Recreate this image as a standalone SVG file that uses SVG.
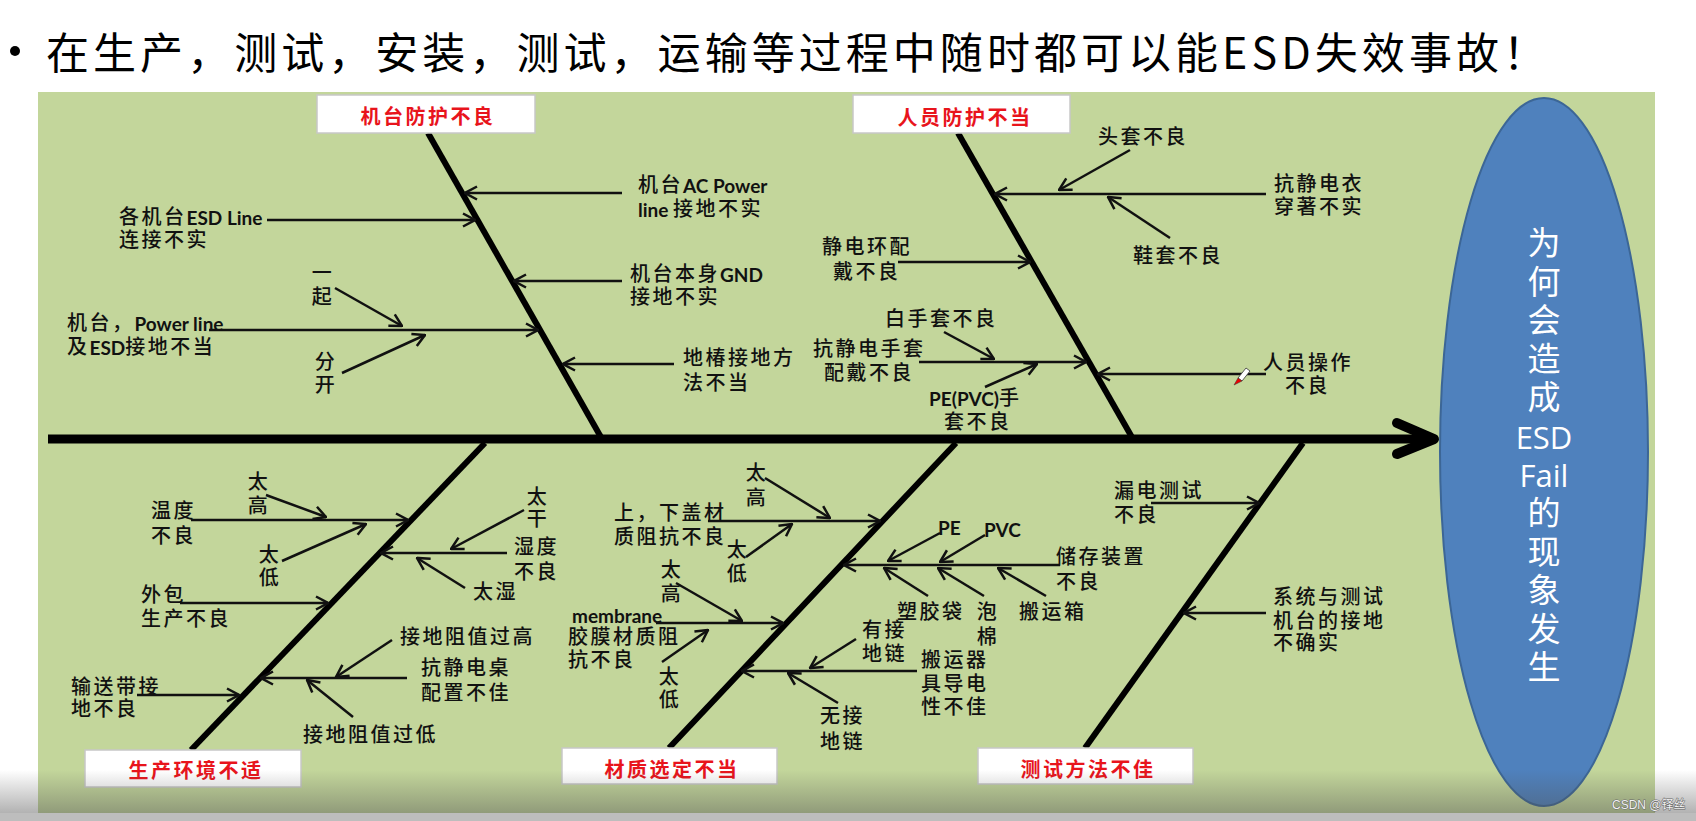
<svg xmlns="http://www.w3.org/2000/svg" width="1696" height="821" viewBox="0 0 1696 821">
<defs>
<style>
.t{font-family:"Liberation Sans","Noto Sans CJK SC",sans-serif;font-size:20px;letter-spacing:2.5px;font-weight:500;fill:#111;dominant-baseline:central}
.tm{text-anchor:middle}
.b{font-family:Lato,"Open Sans",sans-serif;font-weight:bold;letter-spacing:0;font-size:19px}
.cat{font-family:"Liberation Sans","Noto Sans CJK SC",sans-serif;font-size:20px;letter-spacing:2.5px;font-weight:700;fill:#e8141c;dominant-baseline:central;text-anchor:middle}
.box{fill:#fff;stroke:#c8c8c8;stroke-width:1.5}
.bone{stroke:#000;stroke-width:6;fill:none}
.ar{stroke:#111;stroke-width:2.5;fill:none;marker-end:url(#ah)}
.head{font-family:"Liberation Sans","Noto Sans CJK SC",sans-serif;font-size:33px;fill:#fff;text-anchor:middle;dominant-baseline:central}
.headl{font-family:"Open Sans","Noto Sans",sans-serif;font-size:31px}
</style>
<marker id="ah" viewBox="0 0 14 16" markerWidth="14" markerHeight="16" refX="13" refY="8" orient="auto" markerUnits="userSpaceOnUse">
<path d="M1,1.5 L13,8 L1,14.5" fill="none" stroke="#111" stroke-width="2.5"/>
</marker>
<linearGradient id="fade" x1="0" y1="0" x2="0" y2="1">
<stop offset="0" stop-color="#505050" stop-opacity="0"/>
<stop offset="1" stop-color="#505050" stop-opacity="0.45"/>
</linearGradient>
</defs>
<rect x="0" y="0" width="1696" height="821" fill="#fff"/>
<g id="title">
<circle cx="15" cy="51" r="5" fill="#000"/>
<text x="46" y="69" font-family="Noto Sans CJK SC, sans-serif" font-size="43" fill="#000" textLength="1500" lengthAdjust="spacing">在生产，测试，安装，测试，运输等过程中随时都可以能ESD失效事故！</text>
</g>
<rect id="panel" x="38" y="92" width="1617" height="729" fill="#c3d69b"/>

<g id="connectors">
<line x1="48" y1="439" x2="1428" y2="439" stroke="#000" stroke-width="9"/>
<path d="M1397,423 L1434,439 L1397,454" fill="none" stroke="#000" stroke-width="10" stroke-linecap="round" stroke-linejoin="round"/>
<line class="bone" x1="428" y1="133" x2="602" y2="439"/>
<line class="bone" x1="958" y1="133" x2="1133" y2="439"/>
<line class="bone" x1="485" y1="443" x2="191" y2="750"/>
<line class="bone" x1="956" y1="443" x2="669" y2="748"/>
<line class="bone" x1="1303" y1="443" x2="1085" y2="748" stroke-width="5"/>
<line class="ar" x1="622" y1="193" x2="465" y2="193"/>
<line class="ar" x1="267" y1="220" x2="475" y2="220" stroke-width="4"/>
<line class="ar" x1="622" y1="281" x2="514" y2="281"/>
<line class="ar" x1="209" y1="330" x2="538" y2="330"/>
<line class="ar" x1="335" y1="288" x2="402" y2="326"/>
<line class="ar" x1="342" y1="373" x2="425" y2="335"/>
<line class="ar" x1="674" y1="364" x2="563" y2="364"/>
<line class="ar" x1="1266" y1="194" x2="995" y2="194"/>
<line class="ar" x1="1130" y1="150" x2="1059" y2="190"/>
<line class="ar" x1="1170" y1="238" x2="1108" y2="197"/>
<line class="ar" x1="898" y1="262" x2="1030" y2="262"/>
<line class="ar" x1="919" y1="362" x2="1086" y2="362"/>
<line class="ar" x1="944" y1="332" x2="994" y2="359"/>
<line class="ar" x1="985" y1="387" x2="1037" y2="364"/>
<line class="ar" x1="1266" y1="374" x2="1098" y2="374"/>
<line class="ar" x1="191" y1="520" x2="408" y2="520"/>
<line class="ar" x1="266" y1="495" x2="326" y2="517"/>
<line class="ar" x1="282" y1="561" x2="366" y2="524"/>
<line class="ar" x1="507" y1="553" x2="381" y2="553"/>
<line class="ar" x1="524" y1="510" x2="451" y2="549"/>
<line class="ar" x1="465" y1="588" x2="417" y2="558"/>
<line class="ar" x1="180" y1="603" x2="328" y2="603"/>
<line class="ar" x1="407" y1="678" x2="261" y2="678"/>
<line class="ar" x1="392" y1="640" x2="336" y2="677"/>
<line class="ar" x1="353" y1="717" x2="307" y2="680"/>
<line class="ar" x1="137" y1="695" x2="239" y2="695"/>
<line class="ar" x1="708" y1="521" x2="880" y2="521"/>
<line class="ar" x1="765" y1="478" x2="830" y2="518"/>
<line class="ar" x1="746" y1="557" x2="792" y2="524"/>
<line class="ar" x1="1060" y1="565" x2="844" y2="565"/>
<line class="ar" x1="940" y1="533" x2="888" y2="561"/>
<line class="ar" x1="985" y1="535" x2="940" y2="562"/>
<line class="ar" x1="928" y1="596" x2="884" y2="568"/>
<line class="ar" x1="984" y1="596" x2="938" y2="568"/>
<line class="ar" x1="1046" y1="596" x2="998" y2="568"/>
<line class="ar" x1="656" y1="623" x2="783" y2="623"/>
<line class="ar" x1="676" y1="583" x2="742" y2="621"/>
<line class="ar" x1="662" y1="662" x2="708" y2="630"/>
<line class="ar" x1="917" y1="671" x2="742" y2="671"/>
<line class="ar" x1="856" y1="639" x2="810" y2="668"/>
<line class="ar" x1="838" y1="703" x2="788" y2="673"/>
<line class="ar" x1="1151" y1="503" x2="1259" y2="503"/>
<line class="ar" x1="1266" y1="613" x2="1184" y2="613"/>
</g>

<g id="head">
<ellipse cx="1544" cy="452" rx="104" ry="354" fill="#4f81bd" stroke="#3c6696" stroke-width="2"/>
<text class="head" x="1544" y="243"><tspan x="1544" y="243">为</tspan><tspan x="1544" y="282">何</tspan><tspan x="1544" y="320">会</tspan><tspan x="1544" y="359">造</tspan><tspan x="1544" y="397">成</tspan><tspan class="headl" x="1544" y="437">ESD</tspan><tspan class="headl" x="1544" y="475">Fail</tspan><tspan x="1544" y="513">的</tspan><tspan x="1544" y="552">现</tspan><tspan x="1544" y="590">象</tspan><tspan x="1544" y="629">发</tspan><tspan x="1544" y="667">生</tspan></text>
</g>

<g id="cat-machine"><rect class="box" x="317" y="95" width="218" height="38"/><text class="cat" x="428" y="117">机台防护不良</text></g>
<g id="cat-people"><rect class="box" x="853" y="95" width="217" height="38"/><text class="cat" x="965" y="118">人员防护不当</text></g>
<g id="cat-env"><rect class="box" x="85" y="750" width="216" height="37"/><text class="cat" x="196" y="771">生产环境不适</text></g>
<g id="cat-material"><rect class="box" x="562" y="748" width="215" height="36"/><text class="cat" x="672" y="770">材质选定不当</text></g>
<g id="cat-test"><rect class="box" x="978" y="748" width="215" height="36"/><text class="cat" x="1088" y="770">测试方法不佳</text></g>

<g id="n-esdline"><text class="t"><tspan x="119" y="217">各机台<tspan class="b">ESD Line</tspan></tspan><tspan x="119" y="240">连接不实</tspan></text></g>
<g id="n-acpower"><text class="t"><tspan x="638" y="185">机台<tspan class="b">AC Power</tspan></tspan><tspan x="638" y="209"><tspan class="b">line </tspan>接地不实</tspan></text></g>
<g id="n-gnd"><text class="t"><tspan x="630" y="274">机台本身<tspan class="b">GND</tspan></tspan><tspan x="630" y="297">接地不实</tspan></text></g>
<g id="n-pile"><text class="t"><tspan x="683" y="358">地椿接地方</tspan><tspan x="683" y="383">法不当</tspan></text></g>
<g id="n-powerline"><text class="t"><tspan x="67" y="323">机台，<tspan class="b">Power line</tspan></tspan><tspan x="67" y="347">及<tspan class="b">ESD</tspan>接地不当</tspan></text></g>
<g id="n-together"><text class="t tm"><tspan x="323" y="273">一</tspan><tspan x="323" y="297">起</tspan></text></g>
<g id="n-apart"><text class="t tm"><tspan x="326" y="362">分</tspan><tspan x="326" y="385">开</tspan></text></g>

<g id="n-hood"><text class="t" x="1098" y="137">头套不良</text></g>
<g id="n-smock"><text class="t"><tspan x="1274" y="184">抗静电衣</tspan><tspan x="1274" y="207">穿著不实</tspan></text></g>
<g id="n-shoe"><text class="t" x="1133" y="256">鞋套不良</text></g>
<g id="n-wrist"><text class="t"><tspan x="822" y="247">静电环配</tspan><tspan x="833" y="272">戴不良</tspan></text></g>
<g id="n-whiteglove"><text class="t" x="885" y="319">白手套不良</text></g>
<g id="n-glove"><text class="t"><tspan x="813" y="349">抗静电手套</tspan><tspan x="824" y="373">配戴不良</tspan></text></g>
<g id="n-pvcglove"><text class="t"><tspan x="929" y="398"><tspan class="b">PE(PVC)</tspan>手</tspan><tspan x="944" y="422">套不良</tspan></text></g>
<g id="n-operate"><text class="t"><tspan x="1263" y="363">人员操作</tspan><tspan x="1285" y="386">不良</tspan></text></g>
<g id="pen">
<polygon points="1238,378 1246,368 1250,371 1242,381" fill="#fff" stroke="#333" stroke-width="0.8"/>
<polygon points="1238,378 1242,381 1234,385" fill="#e00" stroke="#333" stroke-width="0.5"/>
</g>

<g id="n-temp"><text class="t"><tspan x="151" y="511">温度</tspan><tspan x="151" y="536">不良</tspan></text></g>
<g id="n-temphigh"><text class="t tm"><tspan x="259" y="482">太</tspan><tspan x="259" y="506">高</tspan></text></g>
<g id="n-templow"><text class="t tm"><tspan x="270" y="555">太</tspan><tspan x="270" y="578">低</tspan></text></g>
<g id="n-humid"><text class="t"><tspan x="514" y="547">湿度</tspan><tspan x="514" y="572">不良</tspan></text></g>
<g id="n-dry"><text class="t tm"><tspan x="538" y="497">太</tspan><tspan x="538" y="519">干</tspan></text></g>
<g id="n-wet"><text class="t" x="473" y="592">太湿</text></g>
<g id="n-package"><text class="t"><tspan x="141" y="595">外包</tspan><tspan x="141" y="619">生产不良</tspan></text></g>
<g id="n-rhigh"><text class="t" x="400" y="637">接地阻值过高</text></g>
<g id="n-desk"><text class="t"><tspan x="421" y="668">抗静电桌</tspan><tspan x="421" y="693">配置不佳</tspan></text></g>
<g id="n-rlow"><text class="t" x="303" y="735">接地阻值过低</text></g>
<g id="n-belt"><text class="t"><tspan x="71" y="687">输送带接</tspan><tspan x="71" y="709">地不良</tspan></text></g>

<g id="n-cover"><text class="t"><tspan x="614" y="513">上，下盖材</tspan><tspan x="614" y="537">质阻抗不良</tspan></text></g>
<g id="n-coverhigh"><text class="t tm"><tspan x="757" y="473">太</tspan><tspan x="757" y="498">高</tspan></text></g>
<g id="n-coverlow"><text class="t tm"><tspan x="738" y="550">太</tspan><tspan x="738" y="574">低</tspan></text></g>
<g id="n-pe"><text class="t b" x="938" y="527">PE</text></g>
<g id="n-pvc"><text class="t b" x="984" y="529">PVC</text></g>
<g id="n-storage"><text class="t"><tspan x="1056" y="557">储存装置</tspan><tspan x="1056" y="582">不良</tspan></text></g>
<g id="n-bag"><text class="t" x="897" y="612">塑胶袋</text></g>
<g id="n-foam"><text class="t tm"><tspan x="988" y="612">泡</tspan><tspan x="988" y="637">棉</tspan></text></g>
<g id="n-box"><text class="t" x="1019" y="612">搬运箱</text></g>
<g id="n-membrane"><text class="t"><tspan class="b" x="572" y="615" font-size="20">membrane</tspan><tspan x="568" y="637">胶膜材质阻</tspan><tspan x="568" y="660">抗不良</tspan></text></g>
<g id="n-memhigh"><text class="t tm"><tspan x="672" y="570">太</tspan><tspan x="672" y="594">高</tspan></text></g>
<g id="n-memlow"><text class="t tm"><tspan x="670" y="677">太</tspan><tspan x="670" y="700">低</tspan></text></g>
<g id="n-chain"><text class="t"><tspan x="862" y="630">有接</tspan><tspan x="862" y="654">地链</tspan></text></g>
<g id="n-carrier"><text class="t"><tspan x="921" y="660">搬运器</tspan><tspan x="921" y="684">具导电</tspan><tspan x="921" y="707">性不佳</tspan></text></g>
<g id="n-nochain"><text class="t"><tspan x="820" y="716">无接</tspan><tspan x="820" y="742">地链</tspan></text></g>

<g id="n-leak"><text class="t"><tspan x="1114" y="491">漏电测试</tspan><tspan x="1114" y="515">不良</tspan></text></g>
<g id="n-sysgnd"><text class="t"><tspan x="1273" y="597">系统与测试</tspan><tspan x="1273" y="621">机台的接地</tspan><tspan x="1273" y="643">不确实</tspan></text></g>

<rect x="0" y="770" width="1696" height="44" fill="url(#fade)"/>
<rect x="0" y="813" width="1696" height="8" fill="#bdbdbd"/>
<text x="1612" y="809" font-family="Liberation Sans, Noto Sans CJK SC, sans-serif" font-size="12" fill="#f2f2f2" stroke="#666" stroke-width="1" paint-order="stroke">CSDN @铎丝</text>
</svg>
